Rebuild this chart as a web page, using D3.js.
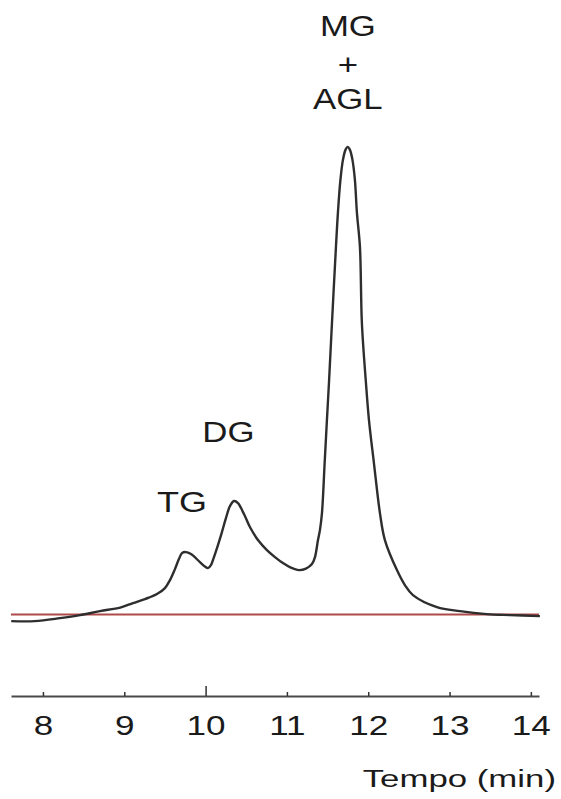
<!DOCTYPE html>
<html>
<head>
<meta charset="utf-8">
<script src="https://cdn.jsdelivr.net/npm/d3@7"></script>
<style>
  html, body { margin: 0; padding: 0; background: #ffffff; }
  svg { display: block; }
  text { font-family: "Liberation Sans", Arial, sans-serif; fill: #1a1a1a; }
</style>
</head>
<body>
<svg id="chart" width="561" height="799"></svg>
<script>
// ---- Data (retention time in minutes, detector signal normalised to main peak = 100) ----
const time = [7.61, 7.90, 8.21, 8.455, 8.70, 8.95, 9.107, 9.254, 9.402, 9.50, 9.562, 9.623, 9.672,
  9.709, 9.758, 9.820, 9.930, 9.992, 10.029, 10.066, 10.103, 10.152, 10.201, 10.250, 10.30,
  10.349, 10.398, 10.472, 10.545, 10.644, 10.754, 10.853, 10.951, 11.049, 11.148, 11.234,
  11.308, 11.345, 11.382, 11.406, 11.431, 11.464, 11.492, 11.517, 11.554, 11.603, 11.627,
  11.658, 11.689, 11.720, 11.747, 11.775, 11.806, 11.836, 11.861, 11.898, 11.922, 11.972,
  12.009, 12.070, 12.144, 12.205, 12.353, 12.451, 12.550, 12.845, 13.128, 13.459, 13.742, 14.111];
const signal = [-1.39, -1.39, -0.75, -0.11, 0.75, 1.50, 2.46, 3.32, 4.39, 5.67, 7.38, 9.73, 11.87,
  13.15, 13.37, 12.94, 11.23, 10.27, 9.95, 10.59, 12.30, 14.87, 17.65, 20.64, 23.21,
  24.28, 23.85, 21.50, 18.72, 15.94, 13.80, 12.30, 11.02, 10.05, 9.52, 9.84,
  10.80, 12.30, 15.94, 18.07, 21.71, 32.41, 41.60, 49.52, 62.35, 78.61, 85.88,
  92.94, 97.22, 99.36, 100, 99.36, 97.22, 92.94, 85.88, 78.61, 62.35, 49.52,
  41.60, 32.41, 21.71, 15.94, 9.52, 6.31, 4.17, 1.60, 0.75, 0.11, -0.11, -0.32];
const baselineTime = [7.607, 14.1];
const baselineSignal = [0, 0];
const tickValues = [8, 9, 10, 11, 12, 13, 14];
const tickLabels = ["8", "9", "10", "11", "12", "13", "14"];
const peakNames = ["TG", "DG", "MG", "+", "AGL"];
const peakTimes = [9.71, 10.28, 11.75, 11.75, 11.75];
const peakSignals = [22.0, 36.8, 123.7, 115.3, 108.0];
const xTitle = "Tempo (min)";

// ---- Layout ----
const svg = d3.select("#chart");
const x = d3.scaleLinear().domain([7.607, 14.1]).range([11, 539]);
const y = d3.scaleLinear().domain([-17.4, 131.4]).range([696, 0]);

// baseline (red)
svg.append("path")
  .datum(baselineTime.map((t, i) => [t, baselineSignal[i]]))
  .attr("fill", "none")
  .attr("stroke", "#b04a4a")
  .attr("stroke-width", 2)
  .attr("d", d3.line().x(d => x(d[0])).y(d => y(d[1])));

// chromatogram
svg.append("path")
  .datum(time.map((t, i) => [t, signal[i]]))
  .attr("fill", "none")
  .attr("stroke", "#2e2e2e")
  .attr("stroke-width", 2.4)
  .attr("stroke-linejoin", "round")
  .attr("d", d3.line().x(d => x(d[0])).y(d => y(d[1])).curve(d3.curveCatmullRom.alpha(0.5)));

// x axis
const axis = d3.axisBottom(x)
  .tickValues(tickValues)
  .tickFormat((d, i) => tickLabels[i])
  .tickSizeInner(-4)
  .tickSizeOuter(0);
const gx = svg.append("g").attr("transform", `translate(0,${y(-17.4)})`).call(axis);
gx.select(".domain").attr("stroke", "#4a4a4a").attr("stroke-width", 2.2);
gx.selectAll(".tick line").attr("stroke", "#333").attr("stroke-width", 1.5)
  .attr("y2", d => d === 10 ? -10 : -4);
gx.selectAll(".tick text")
  .attr("y", null).attr("dy", null)
  .attr("transform", "translate(0,39) scale(1.3,1)")
  .attr("font-size", 27)
  .attr("font-family", "Liberation Sans, Arial, sans-serif")
  .attr("fill", "#1a1a1a");

// axis title
svg.append("text")
  .attr("transform", "translate(556,787) scale(1.45,1)")
  .attr("text-anchor", "end")
  .attr("font-size", 24)
  .text(xTitle);

// peak labels
svg.selectAll("text.peak")
  .data(peakNames)
  .join("text")
  .attr("class", "peak")
  .attr("text-anchor", "middle")
  .attr("font-size", (d) => d === "TG" ? 30 : 29)
  .attr("transform", (d, i) => `translate(${x(peakTimes[i])},${y(peakSignals[i])}) scale(1.2,1)`)
  .text(d => d);
</script>
</body>
</html>
